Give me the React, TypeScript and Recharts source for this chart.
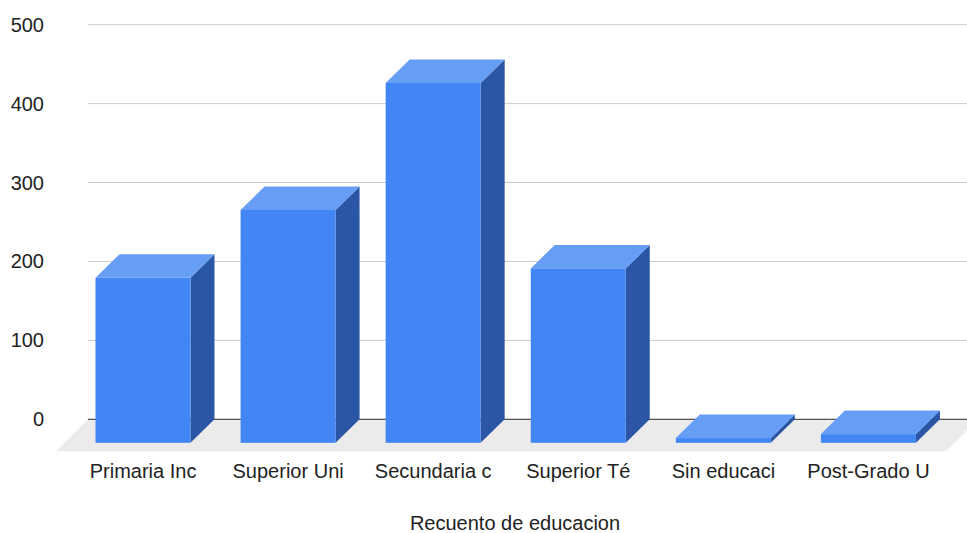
import { BarChart, Bar, XAxis, YAxis, CartesianGrid, ReferenceLine, Label } from "recharts"

const categories = ["Primaria Inc", "Superior Uni", "Secundaria c", "Superior Té", "Sin educaci", "Post-Grado U"]
const counts = [209, 295, 456, 221, 6, 11]
const yTicks = [0, 100, 200, 300, 400, 500]

const data = categories.map((name, i) => ({ name, count: counts[i] }))

// extrusion of the fake 3d bars and the floor, in px
const DX = 24
const DY = 23.5
const FLOOR = 32

const FONT = "'Liberation Sans', Arial, sans-serif"

function Bar3D(props: any) {
  const { x, y, width, height } = props
  const fx = x - DX
  const base = y + height
  return (
    <g>
      <polygon
        points={`${fx + width},${y + DY} ${x + width},${y} ${x + width},${base} ${fx + width},${base + DY}`}
        fill="#2a56a5"
      />
      <polygon points={`${fx},${y + DY} ${x},${y} ${x + width},${y} ${fx + width},${y + DY}`} fill="#669ef6" />
      <rect x={fx} y={y + DY} width={width} height={height} fill="#4285f4" />
    </g>
  )
}

function Floor(props: any) {
  const { x1, y1, x2 } = props
  return (
    <g>
      <polygon
        points={`${x1},${y1} ${x2 + 11},${y1} ${x2 + 11 - FLOOR},${y1 + FLOOR} ${x1 - FLOOR},${y1 + FLOOR}`}
        fill="#ebebeb"
      />
      <line x1={x1} y1={y1} x2={x2} y2={y1} stroke="#333333" strokeWidth={1} />
    </g>
  )
}

function XTick({ x, y, payload }: any) {
  return (
    <text x={x - DX} y={y + 59} textAnchor="middle" fontFamily={FONT} fontSize={20} fill="#222222">
      {payload.value}
    </text>
  )
}

function YTick({ x, y, payload }: any) {
  return (
    <text x={x - 44} y={y} dy="0.35em" textAnchor="end" fontFamily={FONT} fontSize={20} fill="#222222">
      {payload.value}
    </text>
  )
}

function Title({ viewBox }: any) {
  return (
    <text
      x={viewBox.x + viewBox.width / 2 - 12.5}
      y={viewBox.y + 110.7}
      textAnchor="middle"
      fontFamily={FONT}
      fontSize={20}
      fill="#222222"
    >
      Recuento de educacion
    </text>
  )
}

export default function App() {
  return (
    <div style={{ position: "absolute", left: 0, top: 0 }}>
      <BarChart width={967} height={533} data={data} margin={{ top: 24.7, right: 0, bottom: 53.7, left: 0 }}>
        <CartesianGrid vertical={false} stroke="#cccccc" />
        <ReferenceLine y={0} shape={Floor} zIndex={-50} />
        <XAxis
          dataKey="name"
          height={60}
          padding={{ left: 6.5, right: 2 }}
          axisLine={false}
          tickLine={false}
          tickSize={0}
          tickMargin={0}
          interval={0}
          tick={<XTick />}
        >
          <Label content={<Title />} />
        </XAxis>
        <YAxis
          width={88}
          domain={[0, 500]}
          ticks={yTicks}
          axisLine={false}
          tickLine={false}
          tickSize={0}
          tickMargin={0}
          tick={<YTick />}
        />
        <Bar dataKey="count" barSize={95} shape={<Bar3D />} isAnimationActive={false} />
      </BarChart>
    </div>
  )
}
